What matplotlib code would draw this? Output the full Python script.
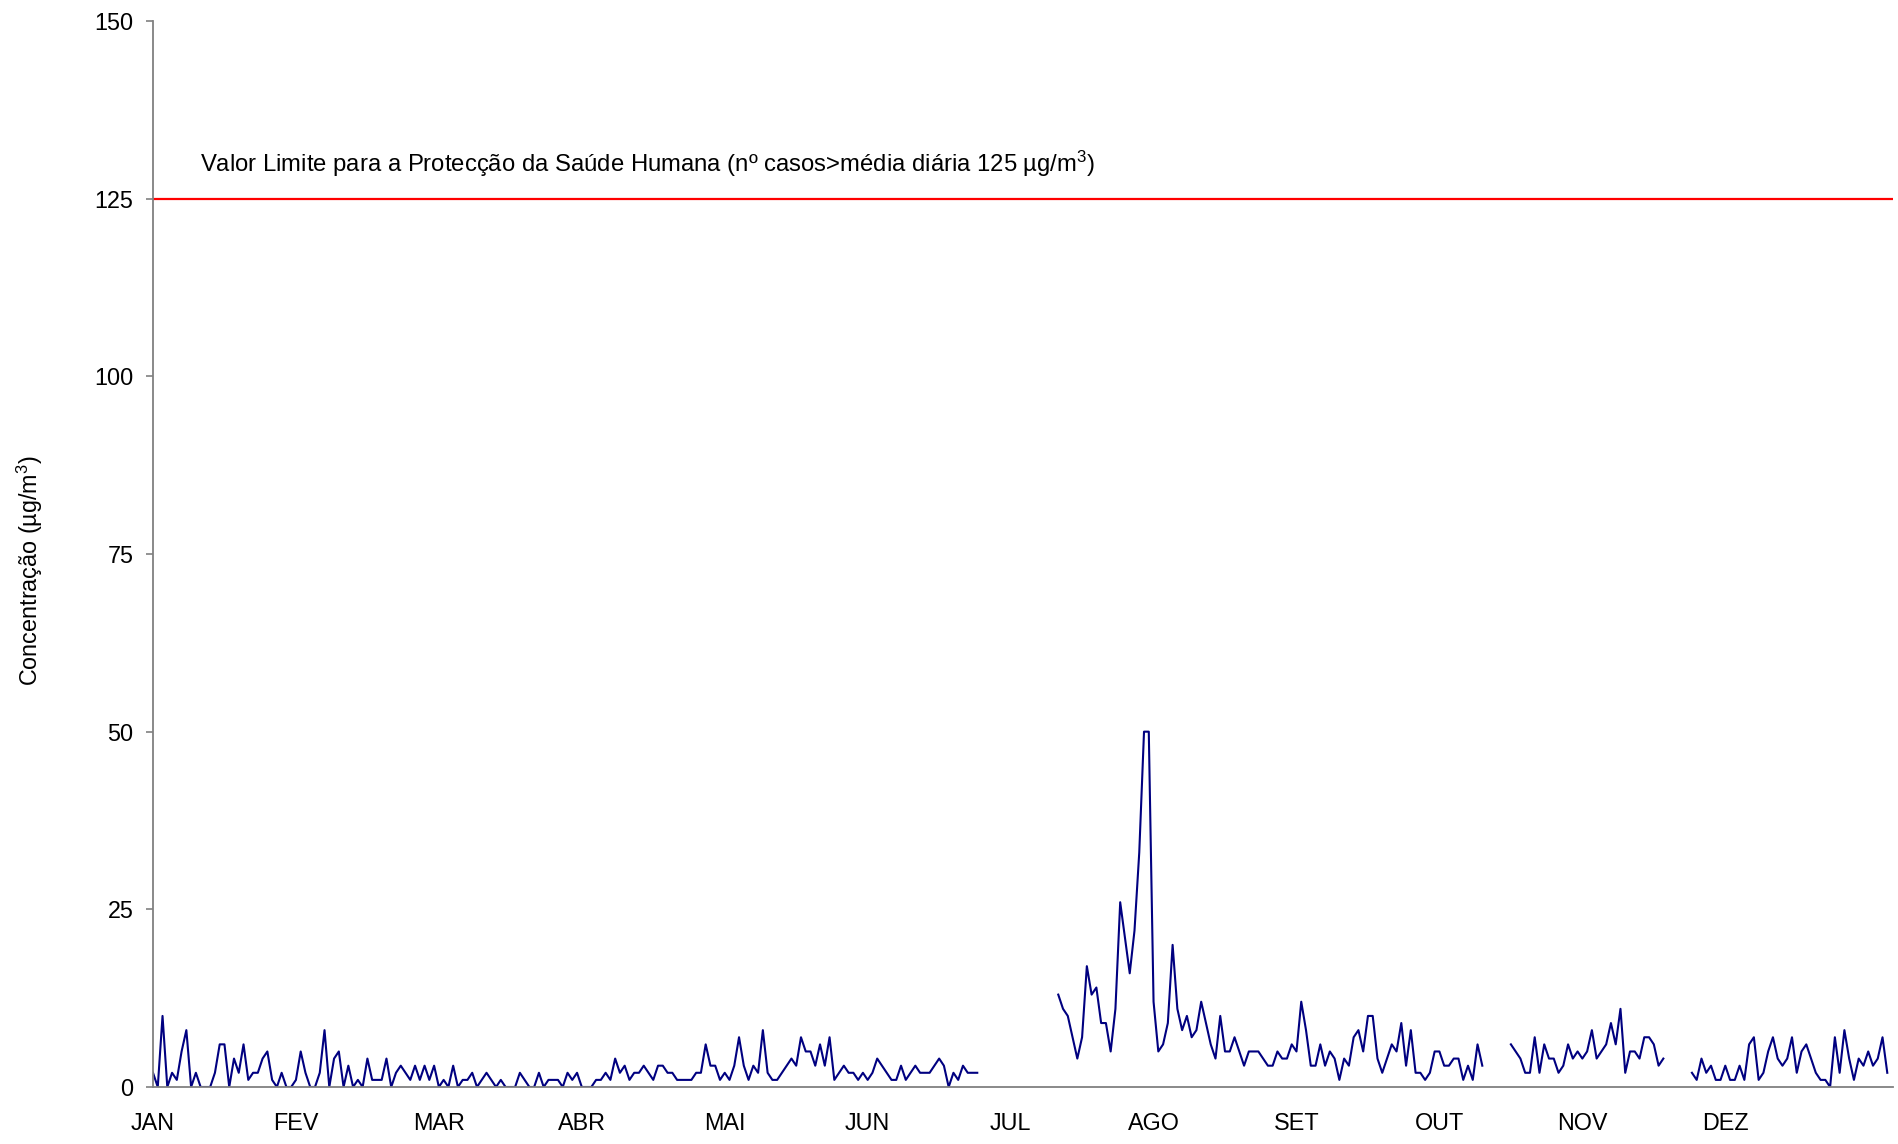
import numpy as np
import matplotlib
matplotlib.use("Agg")
import matplotlib.pyplot as plt

plt.rcParams['font.family'] = ['Liberation Sans', 'DejaVu Sans']
plt.rcParams['mathtext.fontset'] = 'custom'
plt.rcParams['mathtext.rm'] = 'Liberation Sans'
plt.rcParams['mathtext.it'] = 'Liberation Sans'

N = None
# daily values per month (µg/m3), None = no data
jan = [2, 0, 10, 0, 2, 1, 5, 8, 0, 2, 0, 0, 0, 2, 6, 6, 0, 4, 2, 6, 1, 2, 2, 4, 5, 1, 0, 2, 0, 0, 1]
fev = [5, 2, 0, 0, 2, 8, 0, 4, 5, 0, 3, 0, 1, 0, 4, 1, 1, 1, 4, 0, 2, 3, 2, 1, 3, 1, 3, 1]
mar = [3, 0, 1, 0, 3, 0, 1, 1, 2, 0, 1, 2, 1, 0, 1, 0, 0, 0, 2, 1, 0, 0, 2, 0, 1, 1, 1, 0, 2, 1, 2]
abr = [0, 0, 0, 1, 1, 2, 1, 4, 2, 3, 1, 2, 2, 3, 2, 1, 3, 3, 2, 2, 1, 1, 1, 1, 2, 2, 6, 3, 3, 1]
mai = [2, 1, 3, 7, 3, 1, 3, 2, 8, 2, 1, 1, 2, 3, 4, 3, 7, 5, 5, 3, 6, 3, 7, 1, 2, 3, 2, 2, 1, 2, 1]
jun = [2, 4, 3, 2, 1, 1, 3, 1, 2, 3, 2, 2, 2, 3, 4, 3, 0, 2, 1, 3, 2, 2, 2, N, N, N, N, N, N, N]
jul = [N, N, N, N, N, N, N, N, N, 13, 11, 10, 7, 4, 7, 17, 13, 14, 9, 9, 5, 11, 26, 21, 16, 22, 33, 50, 50, 12, 5]
ago = [6, 9, 20, 11, 8, 10, 7, 8, 12, 9, 6, 4, 10, 5, 5, 7, 5, 3, 5, 5, 5, 4, 3, 3, 5, 4, 4, 6, 5, 12, 8]
set_ = [3, 3, 6, 3, 5, 4, 1, 4, 3, 7, 8, 5, 10, 10, 4, 2, 4, 6, 5, 9, 3, 8, 2, 2, 1, 2, 5, 5, 3, 3]
out = [4, 4, 1, 3, 1, 6, 3, N, N, N, N, N, 6, 5, 4, 2, 2, 7, 2, 6, 4, 4, 2, 3, 6, 4, 5, 4, 5, 8, 4]
nov = [5, 6, 9, 6, 11, 2, 5, 5, 4, 7, 7, 6, 3, 4, N, N, N, N, N, 2, 1, 4, 2, 3, 1, 1, 3, 1, 1, 3]
dez = [1, 6, 7, 1, 2, 5, 7, 4, 3, 4, 7, 2, 5, 6, 4, 2, 1, 1, 0, 7, 2, 8, 4, 1, 4, 3, 5, 3, 4, 7, 2]

month_labels = ['JAN', 'FEV', 'MAR', 'ABR', 'MAI', 'JUN', 'JUL', 'AGO', 'SET', 'OUT', 'NOV', 'DEZ']
label_interval = 30
limit_value = 125
y_ticks = [0, 25, 50, 75, 100, 125, 150]

values = np.array([np.nan if v is None else v
                   for m in [jan, fev, mar, abr, mai, jun, jul, ago, set_, out, nov, dez]
                   for v in m], dtype=float)
days = np.arange(len(values))

FS = 16.8

fig = plt.figure(figsize=(18.99, 11.44), dpi=100)
ax = fig.add_axes([153/1899, 1 - 1087/1144, (1893-153)/1899, (1087-21)/1144])

ax.plot(days, values, color='#000080', lw=1.5)
ax.axhline(limit_value, color='#FF0000', lw=1.6)

ax.set_xlim(0, 365.2)
ax.set_ylim(0, 150)
ax.set_yticks(y_ticks)
ax.set_xticks(np.arange(len(month_labels)) * label_interval)
ax.set_xticklabels(month_labels)

for s in ['top', 'right']:
    ax.spines[s].set_visible(False)
for s in ['left', 'bottom']:
    ax.spines[s].set_color('#808080')
    ax.spines[s].set_linewidth(1.3)

ax.tick_params(axis='y', direction='out', length=5, width=1.2, color='#808080',
               labelsize=FS, pad=9)
ax.tick_params(axis='x', length=0, labelsize=FS, pad=18)

ax.set_ylabel('Concentração (µg/m$^3$)', fontsize=FS)
ax.yaxis.set_label_coords(-0.062, 0.484)

ax.text(9.9, 128.7, 'Valor Limite para a Protecção da Saúde Humana (nº casos>média diária 125 µg/m$^3$)',
        fontsize=17.2, ha='left', va='baseline')

fig.savefig('out.png', dpi=100)
